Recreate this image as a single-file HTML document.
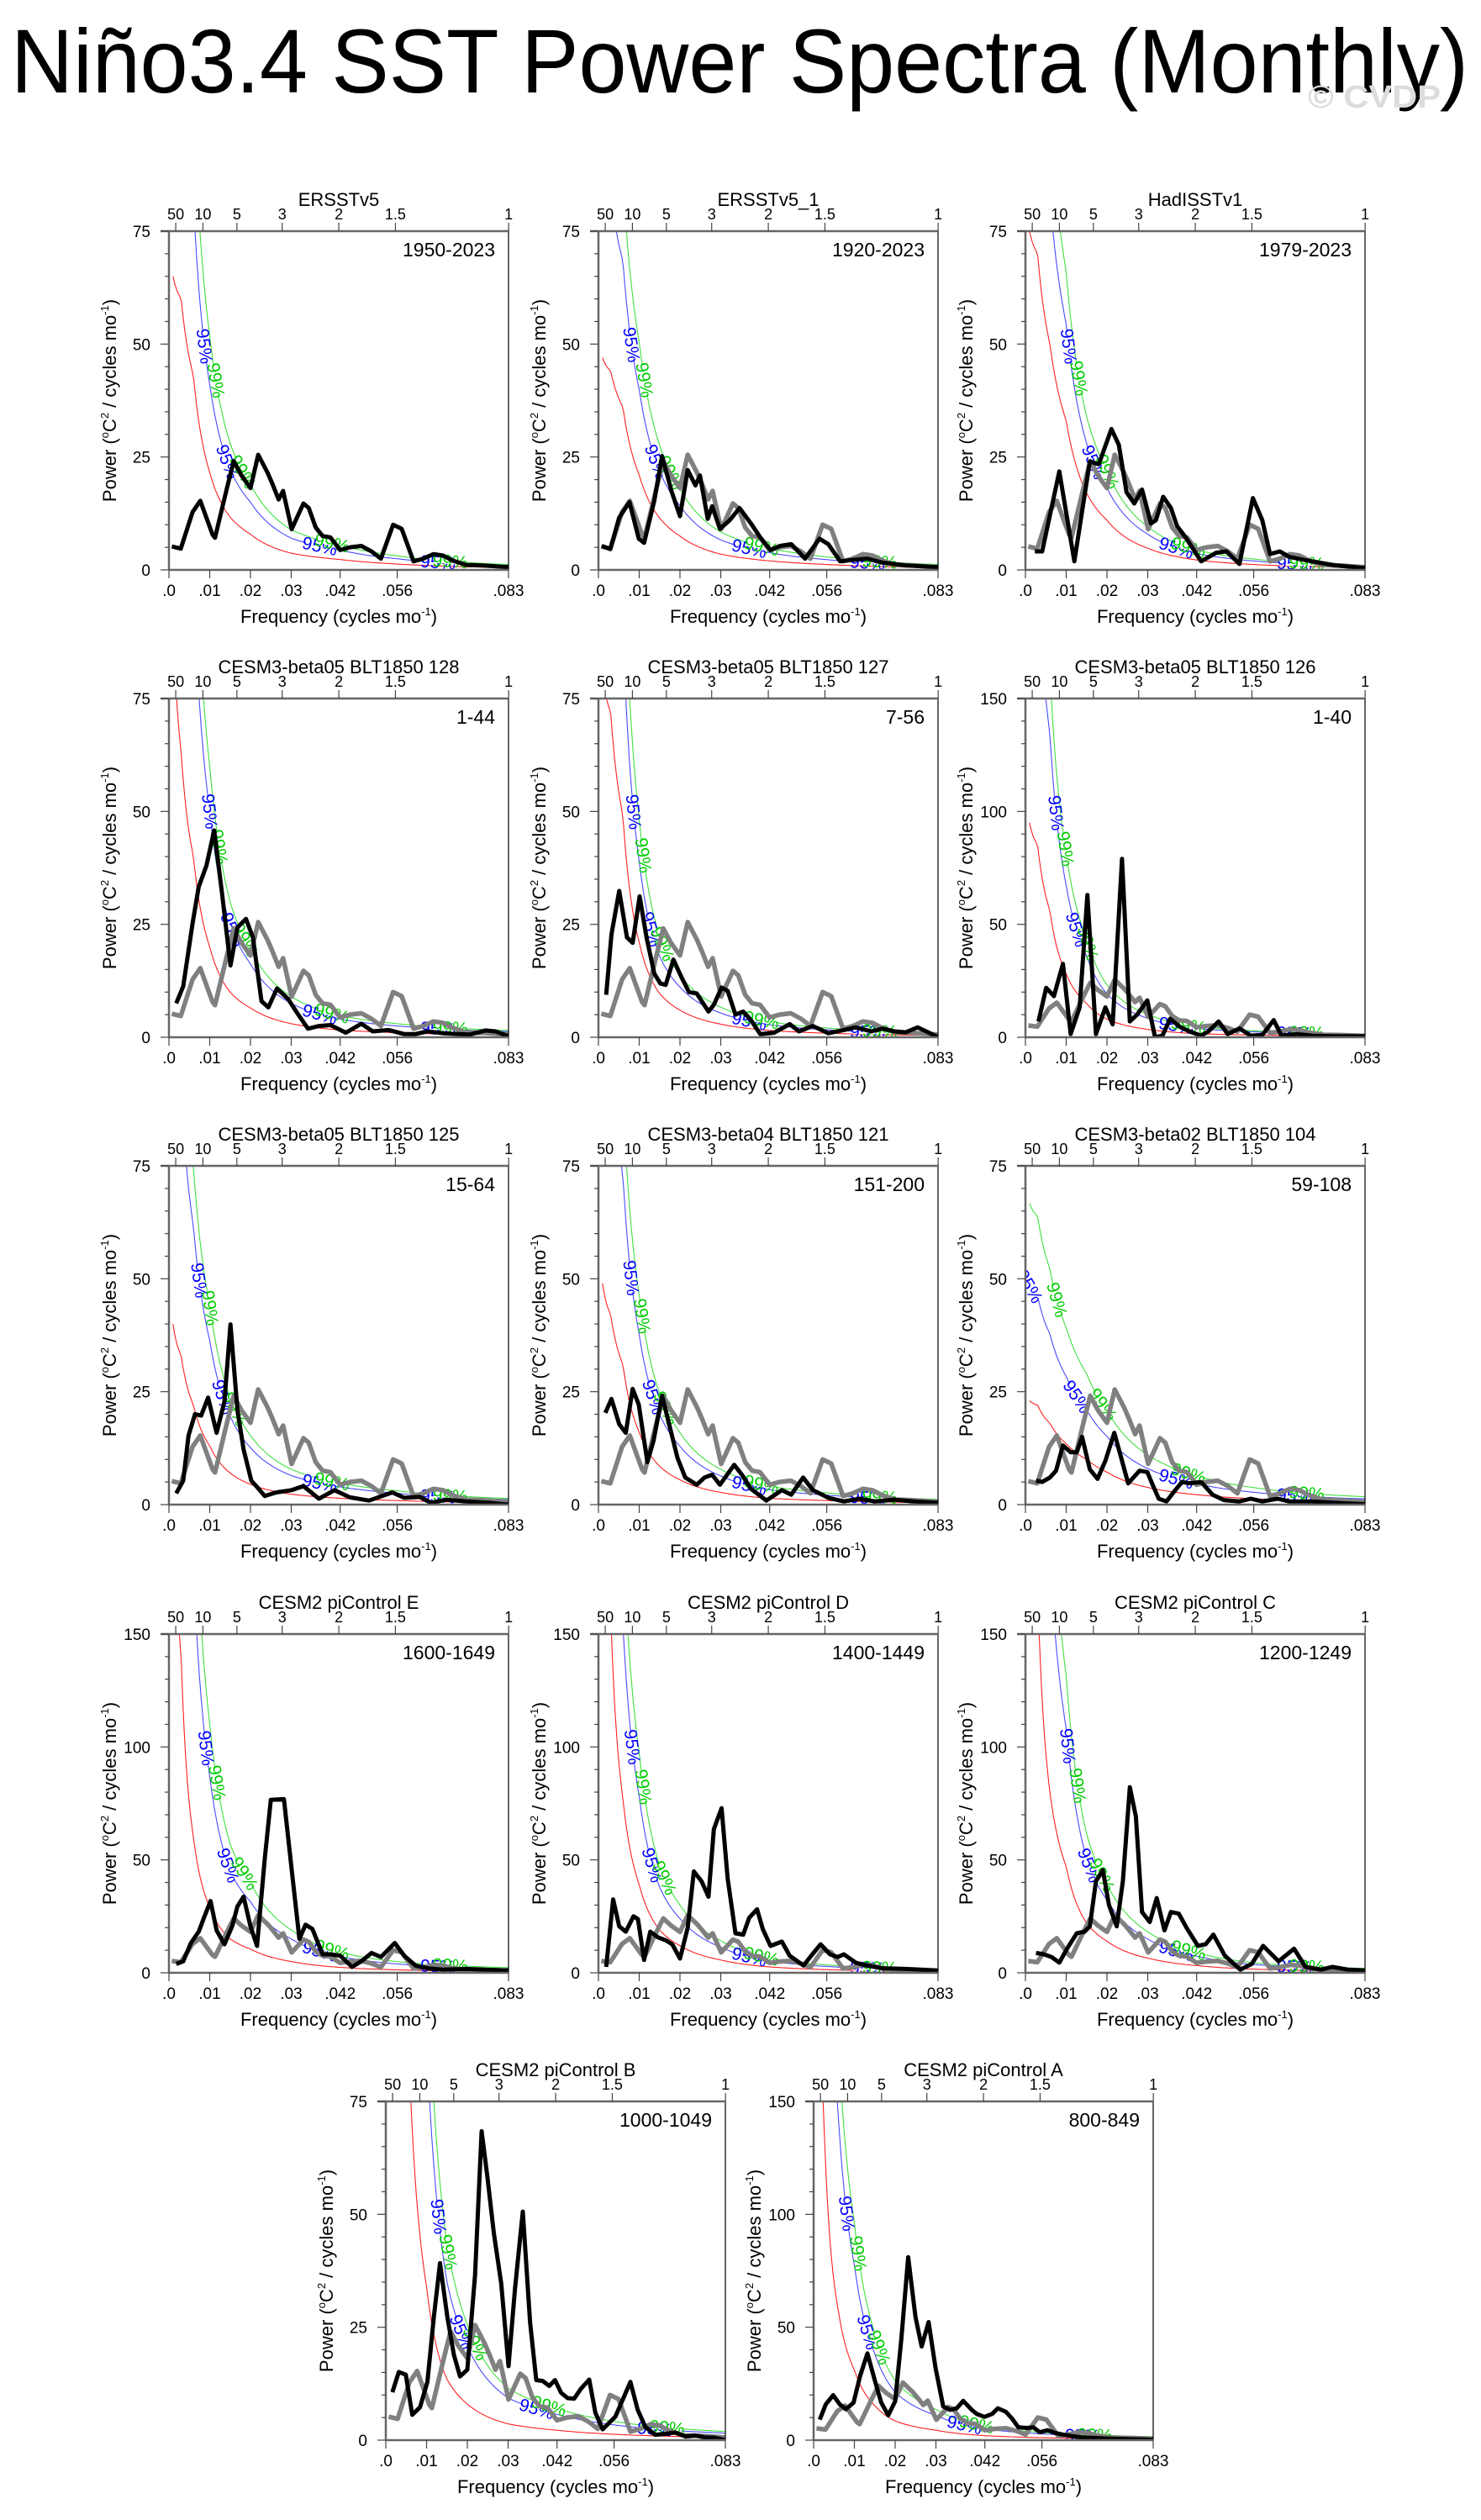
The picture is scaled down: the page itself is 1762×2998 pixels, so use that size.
<!DOCTYPE html>
<html><head><meta charset="utf-8">
<style>
html,body{margin:0;padding:0;background:#fff;}
svg{display:block;font-family:"Liberation Sans",sans-serif;}
</style></head>
<body>
<svg id="fig" width="1762" height="2998" viewBox="0 0 1762 2998" xmlns="http://www.w3.org/2000/svg">
<rect x="0" y="0" width="1762" height="2998" fill="#fff"/>
<text x="13" y="110" font-size="108" textLength="1734" lengthAdjust="spacingAndGlyphs" fill="#000">Niño3.4 SST Power Spectra (Monthly)</text>
<text x="1556" y="128" font-size="38" font-weight="bold" fill="#dcdcdc" textLength="158" lengthAdjust="spacingAndGlyphs">© CVDP</text>
</svg>
<script>
// ---------- DATA ----------
const xTickVals = [0, 0.01, 0.02, 0.03, 0.042, 0.056, 0.0833];
const xTickLabels = [".0", ".01", ".02", ".03", ".042", ".056", ".083"];
const periodVals = [50, 10, 5, 3, 2, 1.5, 1];
const periodLabels = ["50", "10", "5", "3", "2", "1.5", "1"];
const redFreq = [0.001, 0.003, 0.006, 0.01, 0.015, 0.02, 0.03, 0.042, 0.056, 0.0833];

const obsFreq = [.0007,.0029,.0058,.0077,.0107,.0113,.0143,.0159,.0178,.02,.0219,.0242,.0254,.0269,.028,.0301,.033,.0343,.036,.0377,.0396,.042,.0444,.0472,.0497,.052,.055,.0571,.06,.0624,.0649,.0672,.0695,.0729,.0767,.0833];
const obsPower = [5.2,4.7,12.8,15.3,7.8,7.1,18.4,24.1,20.9,18.1,25.5,21.5,19,15.6,17.5,9,14.7,13.7,9.4,7.5,7.2,4.4,5,5.3,4.1,2.5,10,9.1,1.9,2.5,3.5,3.2,2.1,1.1,1,0.6];

const p2Freq = [.0008,.0029,.0051,.0076,.0099,.0112,.0137,.0156,.018,.02,.0219,.0238,.0249,.0268,.0279,.0298,.0321,.0346,.0374,.0397,.0422,.0445,.0473,.0507,.0542,.0564,.0593,.0621,.0659,.0697,.0754,.0833];
const p2Power = [5.3,4.6,11.6,15,6.9,6,15.3,25.2,17.2,11.9,22.1,18.7,20.9,11.3,14.1,9.1,10.9,13.7,10.3,7.2,4.4,5.3,5.7,2.5,6.9,5.7,1.9,2.2,2.5,1.6,1,0.6];

const p3Freq = [.0023,.0041,.0083,.012,.0158,.018,.0211,.0229,.0248,.0267,.0286,.0308,.032,.0338,.0357,.0372,.0393,.0431,.0468,.0493,.0525,.0558,.0581,.06,.0624,.0647,.0684,.076,.0833];
const p3Power = [4.1,4.1,21.8,1.9,24,23.4,31.2,27.7,17.2,14.7,17.8,10.3,11,16.2,13.7,9.7,7.2,1.9,3.8,4.1,1.3,15.9,11,3.5,4.1,2.9,2.2,1,0.4];

const p4Freq = [.0018,.0035,.0058,.0073,.0092,.0111,.013,.0151,.0168,.0189,.0206,.0227,.0244,.0265,.0292,.0315,.0341,.0368,.0396,.0434,.0472,.05,.0539,.0577,.0605,.0634,.0672,.071,.0738,.0776,.0801,.0833];
const p4Power = [7.5,11.3,25.2,33.3,38,45.8,32.1,15.9,24.3,26.2,22.1,8,6.6,10.8,8.5,5.3,1.9,2.5,2.7,1,3,1.3,1.6,0.7,0.7,1.3,0.9,0.7,0.6,1.5,1.3,0.2];

const p5Freq = [.0019,.0032,.0051,.007,.0084,.0101,.0118,.0137,.0152,.0165,.0184,.0203,.0222,.0241,.027,.0283,.0302,.0317,.0336,.0355,.0374,.0397,.0431,.0469,.0492,.0526,.0564,.0602,.0631,.0669,.0697,.0726,.0754,.0783,.0811,.0833];
const p5Power = [9.4,22.8,32.4,22.1,20.9,31.2,22.1,14.1,11.9,11.6,17.2,13.4,10,9.7,5.7,7.2,11,10.3,5,5.7,3.8,0.7,1,2.9,1.3,2.5,0.9,1.6,2.2,1.3,1.9,1.3,1.1,2.2,1,0];

const p6Freq = [.0032,.0051,.007,.0092,.0111,.0133,.0152,.0173,.0196,.0214,.0237,.0256,.0274,.0299,.0318,.0336,.0355,.038,.0402,.0431,.0449,.0474,.0496,.0525,.0553,.0581,.0609,.0628,.0666,.0703,.076,.0833];
const p6Power = [7,21.9,18.2,32.5,1.4,13.2,63,1.4,13.2,5.7,79,7,10,16.3,0,0.7,8.2,4.5,2.6,0.7,2.6,7,1.4,3.9,0.7,1,7.6,0.7,1.4,0.7,0.5,0.4];

const p7Freq = [.0018,.0035,.0048,.0064,.0079,.0096,.0117,.0136,.0151,.0168,.0183,.0202,.022,.0235,.0263,.0301,.033,.0368,.0406,.0444,.0491,.0548,.0577,.0615,.0643,.0681,.0729,.0786,.0833];
const p7Power = [2.5,5.3,15.3,20,19.7,23.7,15.9,22.8,39.9,20.9,12.2,5.3,3.5,1.9,2.7,3.2,4.1,1.3,3.2,1.6,0.9,2.7,1.5,1.7,0.4,1.1,0.7,0.4,0];

const p8Freq = [.0017,.0032,.0051,.0067,.0084,.0099,.012,.0135,.0156,.0175,.0194,.0213,.0241,.026,.0279,.0298,.0333,.0352,.0374,.0412,.045,.0473,.0502,.0526,.0564,.0602,.064,.0678,.0726,.0773,.0833];
const p8Power = [20.3,23.4,17.8,15.9,25.6,22.1,9.4,14.1,24.1,17.2,10.3,6,4.4,6,6.6,4.4,8.8,6.6,3.5,0.9,3.2,2.2,6,3.2,1.5,0.7,1.3,0.7,1.1,0.7,0.4];

const p9Freq = [.0026,.0041,.006,.0075,.0092,.0111,.0126,.0139,.0158,.0177,.0196,.0218,.0233,.0252,.028,.0299,.0312,.0327,.0346,.0365,.0384,.0402,.0431,.0459,.0487,.0525,.0553,.0581,.0619,.0647,.0703,.076,.0833];
const p9Power = [5.3,5,6,7.5,13.1,11.6,11.6,15,7.8,5.7,9.7,15.9,11,4.7,7.5,7.2,4.4,1.3,0.7,2.9,5,4.7,5,2.2,1,0.7,1.3,0.7,1.3,0.7,0.7,0.4,0.1];

const p10Freq = [.0018,.0035,.0054,.0073,.0086,.0102,.0117,.0136,.0155,.0168,.0183,.02,.0216,.0235,.025,.0282,.0301,.032,.0335,.0352,.0377,.0396,.042,.0449,.0472,.0497,.052,.0554,.0577,.0605,.0634,.0672,.0729,.0776,.0833];
const p10Power = [3.9,5.1,13.2,18.2,24.4,31.8,18.8,12.6,20.6,29.4,33.7,20.6,11.9,50.5,76.6,76.9,45.8,15,21.3,19.4,8.2,8.2,7.6,2.6,5.1,8.8,7,13.2,7.6,3.2,2,1.4,1.7,1.4,1];

const p11Freq = [.0019,.0036,.0051,.0067,.0086,.0097,.0112,.0127,.0146,.0165,.0181,.02,.0219,.0234,.0253,.027,.0283,.0302,.0317,.0336,.0355,.037,.0389,.0403,.0422,.045,.0469,.0503,.0522,.0545,.0568,.0587,.0602,.0631,.0659,.0697,.0754,.0833];
const p11Power = [2.6,32.5,20.6,18.2,25,23.8,5.7,18.2,15.7,14.4,12.6,6.3,20,44.9,40.5,33.7,63.6,72.9,41.8,17.5,16.9,24.4,28.1,19.4,11.9,13.8,7.6,3.2,7.6,12.6,8.2,7,8.2,4.5,3.2,2,1.7,1];

const p12Freq = [.0026,.0045,.0064,.0083,.0102,.0126,.0145,.0158,.0173,.019,.0205,.0224,.0239,.0256,.0271,.0286,.0305,.0322,.0341,.0357,.0376,.0395,.0423,.0442,.0461,.0489,.0527,.0555,.0583,.0621,.0659,.0687,.0725,.0753,.0791,.0833];
const p12Power = [8.8,8.2,7,4.5,10.7,17.5,18.2,20.6,40.5,45.5,30,20.6,40.5,82.2,69.2,26.9,22.5,33.1,18.8,26.9,26.2,20,11.9,12.6,16.9,7.6,1.4,3.9,11.9,5.1,10.7,2.6,1.4,2.6,1.4,1];

const pbFreq = [.0016,.0032,.0049,.0065,.0084,.0102,.0118,.0133,.0151,.0167,.0182,.02,.0219,.0235,.0249,.0265,.0283,.0301,.0317,.0336,.0354,.0369,.0385,.0401,.0415,.043,.0446,.0462,.0479,.0499,.0514,.0532,.0563,.06,.0618,.0637,.0661,.0686,.071,.0735,.0759,.0784,.0809,.0833];
const pbPower = [10.6,15.1,14.5,5.6,7.3,12.9,27.3,39.2,27.3,18.9,14.1,15.6,36.6,68.4,58.4,45.9,34.7,16.4,33.5,50.6,26,13.3,13.1,12,13.3,10.5,9.3,9.2,11.4,13.4,6.1,2.4,5.2,12.9,6.7,2.9,1.2,1.4,1.7,0.8,1,0.6,0.5,0];

const paFreq = [.0015,.003,.0048,.0064,.0079,.0098,.0114,.0132,.0151,.0166,.0183,.02,.0215,.0232,.025,.0265,.0282,.0299,.0318,.0335,.0351,.0367,.0388,.04,.0419,.0438,.0452,.0472,.0487,.0502,.0524,.0539,.0555,.0574,.0592,.0611,.0635,.066,.0685,.0722,.0771,.0833];
const paPower = [9.1,15.9,19.9,15.9,13.7,16.6,28.4,38.4,25.9,16.6,11,17.2,44.6,81,54.5,41.5,52.3,32.1,14.9,13.4,14.1,17.4,13.4,11.6,10.3,11.6,14.1,12.5,9.5,5.7,5.4,5.7,3.5,4.4,3.2,2.5,1.7,1.2,1,0.7,0.5,0.2];

// red-noise spectrum samples at redFreq for each panel
const red1 = [65,60,43,21.6,11.7,7.9,3.7,2.3,1.3,0.5];
const red2 = [47,44,36,21,11.5,7.5,3.5,2,1.2,0.5];
const red3 = [75,70,50,33,17,11,4.8,2.2,1.2,0.5];
const red4 = [95,63,40,20,10,6.5,3,1.6,1,0.5];
const red5 = [80,72,49,21,9.7,6,2.9,1.5,0.9,0.4];
const red6 = [95,85,56,28,15,8,3.5,1.6,1,0.5];
const red7 = [40,33,22,13,7,4.5,2.3,1.4,0.9,0.4];
const red8 = [49,42,31,16,8.5,5.5,2.7,1.4,0.9,0.4];
const red9 = [23,22,18,13.5,10,7.2,3.8,2.2,1.3,0.6];
const red10 = [220,140,60,29,15,10.5,5,2.4,1.3,0.6];
const red11 = [220,160,77,39,19,12,5.7,2.6,1.4,0.6];
const red12 = [250,170,80,47,22,14,6.5,3.2,1.6,0.7];
const redB = [300,170,78,34,13.5,8,3.6,2.2,1.3,0.6];
const redA = [320,120,58,31,15.3,8.5,4.4,2,1.1,0.5];

// significance multipliers [95%, 99%]
const sig1 = [1.9, 2.4], sig2 = [1.9, 2.4], sig3 = [1.65, 2.0];
const sig4 = [2.5, 3.0], sig5 = [1.85, 2.3], sig6 = [2.4, 2.9];
const sig7 = [2.8, 3.4], sig8 = [2.35, 2.9], sig9 = [2.1, 2.9];
const sig10 = [3.0, 3.8], sig11 = [2.0, 2.5], sig12 = [2.3, 2.8];
const sigB = [2.6, 3.2], sigA = [2.5, 3.1];

const panelTitles = ["ERSSTv5","ERSSTv5_1","HadISSTv1","CESM3-beta05 BLT1850 128","CESM3-beta05 BLT1850 127","CESM3-beta05 BLT1850 126","CESM3-beta05 BLT1850 125","CESM3-beta04 BLT1850 121","CESM3-beta02 BLT1850 104","CESM2 piControl E","CESM2 piControl D","CESM2 piControl C","CESM2 piControl B","CESM2 piControl A"];
const panelYears = ["1950-2023","1920-2023","1979-2023","1-44","7-56","1-40","15-64","151-200","59-108","1600-1649","1400-1449","1200-1249","1000-1049","800-849"];
const panelYmax = [75,75,75,75,75,150,75,75,75,150,150,150,75,150];

// ---------- LAYOUT ----------
const PW = 404, PH = 403;
const layout = [[201,275],[712,275],[1220,275],[201,831],[712,831],[1220,831],[201,1387],[712,1387],[1220,1387],[201,1944],[712,1944],[1220,1944],[459,2500],[968,2500]];
const series = [
 [obsFreq,obsPower,red1,sig1,false],[p2Freq,p2Power,red2,sig2,true],[p3Freq,p3Power,red3,sig3,true],
 [p4Freq,p4Power,red4,sig4,true],[p5Freq,p5Power,red5,sig5,true],[p6Freq,p6Power,red6,sig6,true],
 [p7Freq,p7Power,red7,sig7,true],[p8Freq,p8Power,red8,sig8,true],[p9Freq,p9Power,red9,sig9,true],
 [p10Freq,p10Power,red10,sig10,true],[p11Freq,p11Power,red11,sig11,true],[p12Freq,p12Power,red12,sig12,true],
 [pbFreq,pbPower,redB,sigB,true],[paFreq,paPower,redA,sigA,true]
];

const NS = "http://www.w3.org/2000/svg";
const svg = document.getElementById("fig");
function mk(tag, attrs, parent){
  const e = document.createElementNS(NS, tag);
  for (const k in attrs) e.setAttribute(k, attrs[k]);
  (parent||svg).appendChild(e);
  return e;
}
function redAt(r, f){
  if (f <= redFreq[0]) return r[0];
  for (let i=0;i<redFreq.length-1;i++){
    if (f <= redFreq[i+1]){
      const t = (Math.log(f)-Math.log(redFreq[i]))/(Math.log(redFreq[i+1])-Math.log(redFreq[i]));
      return Math.exp(Math.log(r[i])*(1-t)+Math.log(r[i+1])*t);
    }
  }
  return r[r.length-1];
}
const FMAX = 0.0833;

layout.forEach((pos, idx) => {
  const L = pos[0], T = pos[1], B = T+PH, R = L+PW;
  const ymax = panelYmax[idx];
  const sx = f => L + f/FMAX*PW;
  const sy = v => B - v/ymax*PH;
  const [fr, pw, red, sig, showGray] = series[idx];
  const g = mk("g", {});
  
  
  const cid = "clip"+idx;
  const cp = mk("clipPath", {id:cid}, g);
  mk("rect", {x:L, y:T, width:PW, height:PH}, cp);

  const tt = mk("text", {x:L+PW/2, y:T-30, "font-size":22, "text-anchor":"middle"}, g);
  tt.textContent = panelTitles[idx];
  
  

  const cg = mk("g", {"clip-path":"url(#"+cid+")"}, g);
  const levels = [["#ff2020",1],["#4a4aff",sig[0]],["#40e040",sig[1]]];
  const names = ["red-noise-curve","sig95-curve","sig99-curve"];
  levels.forEach((lv, li) => {
    let d = "";
    for (let k=0;k<=240;k++){
      const f = 0.001 + (FMAX-0.001)*k/240;
      const v = redAt(red, f)*lv[1];
      d += (k?"L":"M") + sx(f).toFixed(1) + "," + Math.max(sy(v), T-50).toFixed(1);
    }
    const p = mk("path", {d:d, fill:"none", stroke:lv[0], "stroke-width":1.1}, cg);
    
    
  });

  // significance labels (with white gap)
  [[sig[0],"#0000ff","95%"],[sig[1],"#00cc00","99%"]].forEach((s, si) => {
    const fAtLevel = lvl => { for (let f=0.001; f<0.08; f+=0.0001){ if (redAt(red,f)*s[0] <= lvl) return f; } return 0.012; };
    const spots = [fAtLevel(ymax*0.67)+si*0.0012, fAtLevel(ymax*0.32)+si*0.0012, 0.037+si*0.003, 0.066+si*0.003];
    spots.forEach((f) => {
      const v = redAt(red,f)*s[0];
      const x = sx(f), y = sy(v);
      const x2 = sx(f+0.0005), y2 = sy(redAt(red,f+0.0005)*s[0]);
      const ang = Math.atan2(y2-y, x2-x)*180/Math.PI;
      const tr = "rotate("+ang.toFixed(1)+" "+x.toFixed(1)+" "+y.toFixed(1)+")";
      mk("rect", {x:x-17, y:y-3, width:34, height:6, fill:"#fff", transform:tr}, cg);
      const t = mk("text", {x:x, y:y+7, "font-size":21, fill:s[1], "text-anchor":"middle", transform:tr}, cg);
      t.textContent = s[2];
      
      
    });
  });

  if (showGray){
    const d = obsFreq.map((f,i)=>(i?"L":"M")+sx(f).toFixed(1)+","+sy(obsPower[i]).toFixed(1)).join("");
    const p = mk("path", {d:d, fill:"none", stroke:"#808080", "stroke-width":5.5, "stroke-linejoin":"round"}, cg);
    
    
  }
  {
    const d = fr.map((f,i)=>(i?"L":"M")+sx(f).toFixed(1)+","+sy(pw[i]).toFixed(1)).join("");
    const p = mk("path", {d:d, fill:"none", stroke:"#000", "stroke-width":5, "stroke-linejoin":"round"}, cg);
    
    
  }

  const fr1 = mk("rect", {x:L, y:T, width:PW, height:PH, fill:"none", stroke:"#000", "stroke-width":1.2}, g);
  
  
  mk("line", {x1:L, y1:T, x2:L, y2:B, stroke:"#666", "stroke-width":2.5}, g);
  mk("line", {x1:L, y1:B, x2:R, y2:B, stroke:"#666", "stroke-width":2.5}, g);
  mk("line", {x1:L-10, y1:T, x2:R, y2:T, stroke:"#666", "stroke-width":2.5}, g);

  const step = ymax/3;
  for (let v=0; v<=ymax+0.001; v+=ymax/15){
    const major = Math.abs((v/step) - Math.round(v/step)) < 1e-6;
    mk("line", {x1:L-(major?10:5), y1:sy(v), x2:L, y2:sy(v), stroke:"#444", "stroke-width":1.2}, g);
    if (major){
      const t = mk("text", {x:L-22, y:sy(v)+7, "font-size":19, "text-anchor":"end"}, g);
      t.textContent = String(Math.round(v));
      
      
    }
  }
  xTickVals.forEach((f,i) => {
    mk("line", {x1:sx(f), y1:B, x2:sx(f), y2:B+10, stroke:"#444", "stroke-width":1.2}, g);
    const t = mk("text", {x:sx(f), y:B+31, "font-size":19, "text-anchor":"middle"}, g);
    t.textContent = xTickLabels[i];
    
    
  });
  periodVals.forEach((p,i) => {
    const f = 1/(12*p);
    mk("line", {x1:sx(f), y1:T-10, x2:sx(f), y2:T, stroke:"#444", "stroke-width":1.2}, g);
    const t = mk("text", {x:sx(f), y:T-14, "font-size":18, "text-anchor":"middle"}, g);
    t.textContent = periodLabels[i];
    
    
  });
  const yr = mk("text", {x:R-16, y:T+30, "font-size":23, "text-anchor":"end"}, g);
  yr.textContent = panelYears[idx];
  
  
  const xt = mk("text", {x:L+PW/2, y:B+63, "font-size":22, "text-anchor":"middle"}, g);
  xt.innerHTML = 'Frequency (cycles mo<tspan dy="-9" font-size="13">-1</tspan><tspan dy="9">)</tspan>';
  
  
  const cx = L-63, cy = T+PH/2;
  const yt = mk("text", {x:cx, y:cy, "font-size":22, "text-anchor":"middle", transform:"rotate(-90 "+cx+" "+cy+")"}, g);
  yt.innerHTML = 'Power (<tspan dy="-9" font-size="13">o</tspan><tspan dy="9">C</tspan><tspan dy="-9" font-size="13">2</tspan><tspan dy="9"> / cycles mo</tspan><tspan dy="-9" font-size="13">-1</tspan><tspan dy="9">)</tspan>';
  
  
});
</script>
</body></html>
